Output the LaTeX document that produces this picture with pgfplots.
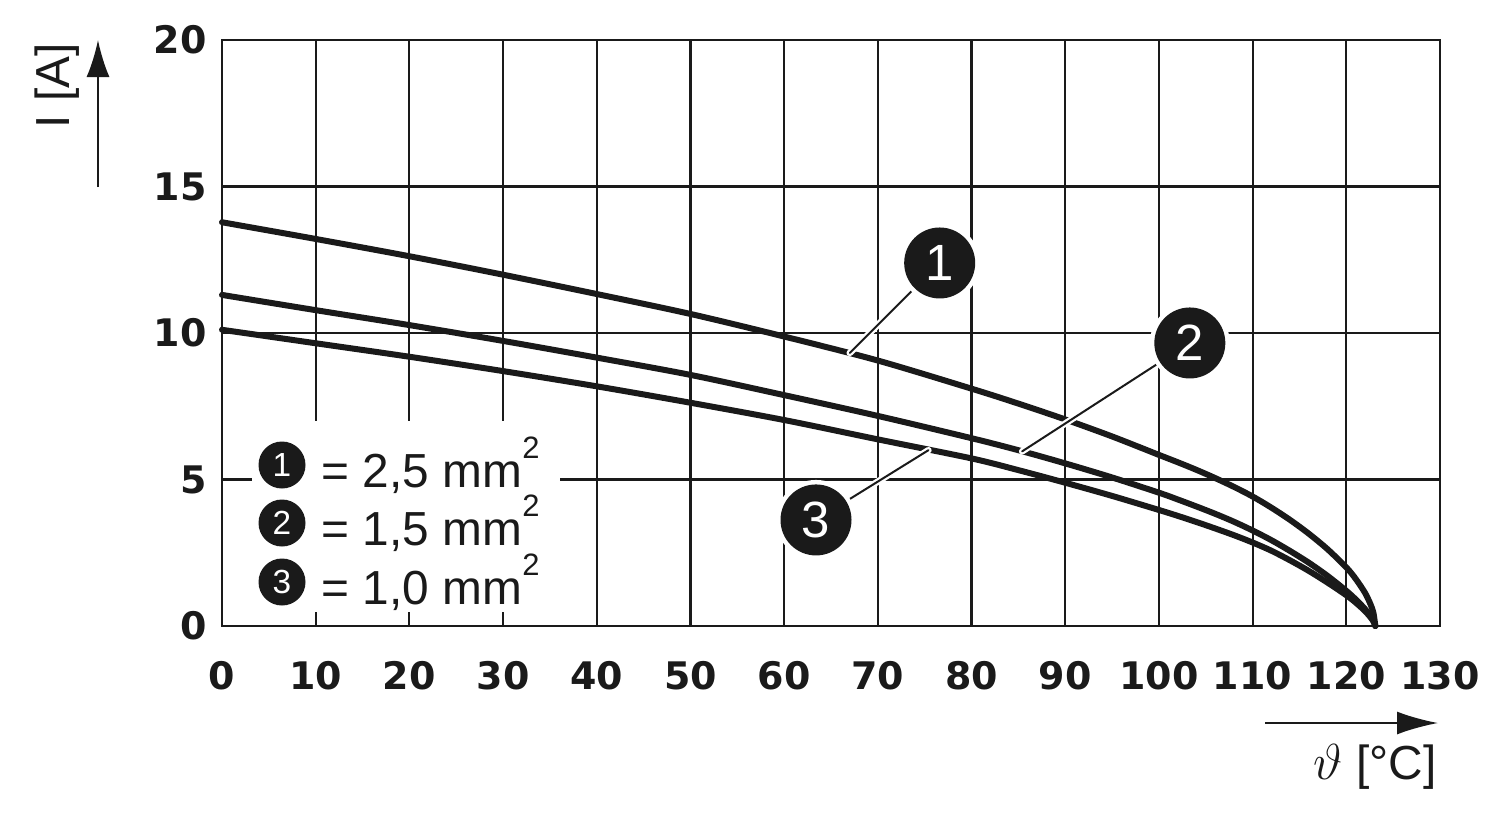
\documentclass[border=0pt]{standalone}
\usepackage{pgfplots}
\pgfplotsset{compat=1.18}
\usepackage{fontspec}
\setmainfont{Liberation Sans}
\newfontfamily\tickfont{DejaVu Sans}
\usetikzlibrary{arrows.meta}
\definecolor{ink}{HTML}{1A1A1A}
\begin{document}
\begin{tikzpicture}
% pixel frame: 1 px = 0.1 mm, pixel (222,626) = axis origin
\begin{scope}[x=0.1mm,y=-0.1mm,shift={(-22.2mm,62.6mm)}]
\useasboundingbox (0,0) rectangle (1500,821);
\end{scope}
\begin{axis}[
  at={(0,0)}, anchor=origin,
  scale only axis, width=121.8mm, height=58.6mm,
  xmin=0, xmax=130, ymin=0, ymax=20,
  xtick={0,10,...,130}, ytick={0,5,...,20},
  major tick length=0pt,
  grid=major,
  grid style={ink, line width=0.22mm},
  axis line style={ink, line width=0.22mm},
  /pgf/number format/assume math mode=true,
  xticklabel style={font=\tickfont\bfseries\fontsize{10.8}{13}\selectfont, anchor=center, yshift=-5mm, text=ink},
  yticklabel style={font=\tickfont\bfseries\fontsize{10.8}{13}\selectfont, anchor=east, xshift=-0.3mm, text=ink},
  clip=false,
]
\addplot[ink, line width=0.6mm, smooth, line cap=round] coordinates {
(0,13.78) (10,13.21) (20,12.62) (30,11.99) (40,11.33) (50,10.65) (60,9.88) (70,9.06) (80,8.1) (85,7.59) (90,7.05) (95,6.47) (100,5.84) (102,5.59) (104,5.33) (106,5.05) (108,4.75) (110,4.42) (112,4.04) (114,3.62) (116,3.15) (118,2.62) (120,2.0) (121,1.61) (122,1.13) (122.6,0.73) (122.9,0.44) (123.1,0)};
\addplot[ink, line width=0.6mm, smooth, line cap=round] coordinates {
(0,11.30) (10,10.78) (20,10.27) (30,9.73) (40,9.16) (50,8.57) (60,7.88) (70,7.17) (80,6.41) (85,6.0) (90,5.55) (95,5.07) (100,4.55) (102,4.32) (104,4.08) (106,3.83) (108,3.56) (110,3.26) (112,2.93) (114,2.56) (116,2.16) (118,1.71) (120,1.2) (121,0.91) (122,0.58) (122.6,0.33) (122.9,0.18) (123.1,0)};
\addplot[ink, line width=0.6mm, smooth, line cap=round] coordinates {
(0,10.11) (10,9.65) (20,9.19) (30,8.70) (40,8.18) (50,7.62) (60,7.03) (70,6.37) (80,5.72) (85,5.32) (90,4.89) (95,4.44) (100,3.96) (102,3.76) (104,3.55) (106,3.33) (108,3.10) (110,2.85) (112,2.57) (114,2.24) (116,1.88) (118,1.48) (120,1.05) (121,0.80) (122,0.51) (122.6,0.29) (122.9,0.15) (123.1,0)};
% leader lines
\draw[white, line width=0.65mm, line cap=round] (axis cs:67.0,9.32) -- (axis cs:76.6,12.39);
\draw[ink, line width=0.2mm, line cap=round] (axis cs:67.0,9.32) -- (axis cs:76.6,12.39);
\draw[white, line width=0.65mm, line cap=round] (axis cs:85.4,5.96) -- (axis cs:103.3,9.66);
\draw[ink, line width=0.2mm, line cap=round] (axis cs:85.4,5.96) -- (axis cs:103.3,9.66);
\draw[white, line width=0.65mm, line cap=round] (axis cs:75.4,6.0) -- (axis cs:63.4,3.62);
\draw[ink, line width=0.2mm, line cap=round] (axis cs:75.4,6.0) -- (axis cs:63.4,3.62);
% callout circles
\fill[white] (axis cs:76.6,12.39) circle (4.0mm);
\fill[ink] (axis cs:76.6,12.39) circle (3.55mm) node[text=white, font=\fontsize{14.5}{16}\selectfont] {1};
\fill[white] (axis cs:103.3,9.66) circle (4.0mm);
\fill[ink] (axis cs:103.3,9.66) circle (3.55mm) node[text=white, font=\fontsize{14.5}{16}\selectfont] {2};
\fill[white] (axis cs:63.4,3.62) circle (4.0mm);
\fill[ink] (axis cs:63.4,3.62) circle (3.55mm) node[text=white, font=\fontsize{14.5}{16}\selectfont] {3};
\end{axis}
\begin{scope}[x=0.1mm,y=-0.1mm,shift={(-22.2mm,62.6mm)}]
% legend box
\fill[white] (252,421) rectangle (560,612);
\foreach \n/\t/\yy in {1/{2,5}/465, 2/{1,5}/523, 3/{1,0}/582}{
  \fill[ink] (282,\yy) circle (2.35mm);
  \node[text=white, font=\fontsize{9.5}{10}\selectfont] at (282,\yy) {\n};
  \node[anchor=west, inner sep=0pt, text=ink, font=\fontsize{13.6}{15}\selectfont] at (321,\yy) {= \t\ mm\raisebox{2.9mm}{\fontsize{8.8}{10}\selectfont 2}};
}
% axis arrows
\draw[ink, line width=0.2mm, -{Latex[length=3.7mm,width=2.3mm]}] (98,187) -- (98,40);
\node[rotate=90, text=ink, font=\fontsize{13.6}{15}\selectfont] at (57,86) {I [A]};
\draw[ink, line width=0.2mm, -{Latex[length=4.1mm,width=2.3mm]}] (1265,723) -- (1438,723);
\node[anchor=east, inner sep=0pt, text=ink, font=\fontsize{13.6}{15}\selectfont] at (1437,767) {$\vartheta$ [°C]};
\end{scope}
\end{tikzpicture}
\end{document}
